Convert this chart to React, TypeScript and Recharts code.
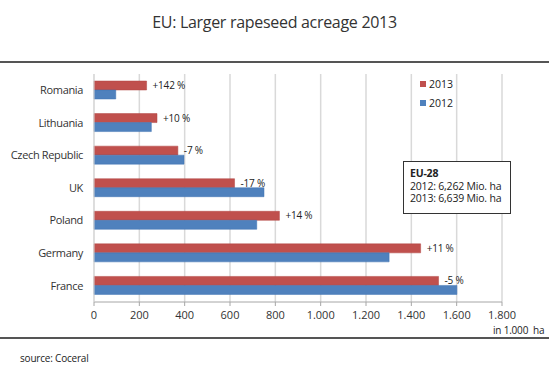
import React from 'react';
import { BarChart, Bar, XAxis, YAxis, CartesianGrid, LabelList } from 'recharts';

const countries = ['Romania', 'Lithuania', 'Czech Republic', 'UK', 'Poland', 'Germany', 'France'];
const values2013 = [232, 278, 370, 620, 818, 1441, 1520];
const values2012 = [96, 253, 397, 750, 718, 1302, 1601];
const changeLabels = ['+142 %', '+10 %', '-7 %', '-17 %', '+14 %', '+11 %', '-5 %'];
const xTicks = [0, 200, 400, 600, 800, 1000, 1200, 1400, 1600, 1800];
const seriesNames = ['2013', '2012'];

const data = countries.map((c, i) => ({
  country: c,
  y2013: values2013[i],
  y2012: values2012[i],
  change: changeLabels[i],
}));

const RED = '#C0504D';
const BLUE = '#4F81BD';
const seriesColors = [RED, BLUE];
const FONT = '"Open Sans", "DejaVu Sans", sans-serif';

const fmt = (v: number) => {
  const s = String(v);
  return s.length > 3 ? s.slice(0, s.length - 3) + '.' + s.slice(s.length - 3) : s;
};

const ChangeLabel = (props: any) => {
  const { x, y, width, height, value } = props;
  return (
    <text
      x={Number(x) + Number(width) + 6}
      y={Number(y) + Number(height) / 2}
      dy="0.35em"
      fontSize={10}
      fill="#222"
      fontFamily={FONT}
      letterSpacing={-0.2}
    >
      {value}
    </text>
  );
};

const YTick = (props: any) => {
  const { x, y, payload } = props;
  return (
    <text x={x} y={y} dy="0.35em" textAnchor="end" fontSize={11} fill="#333" fontFamily={FONT} letterSpacing={-0.35}>
      {payload.value}
    </text>
  );
};

export default function App() {
  return (
    <div style={{ position: 'absolute', left: 0, top: 0, width: 549, height: 378, background: '#fff', fontFamily: FONT }}>
      <div style={{ position: 'absolute', left: 0, top: 11, width: 549, textAlign: 'center', fontSize: 16, letterSpacing: -0.3, color: '#333' }}>
        EU: Larger rapeseed acreage 2013
      </div>
      <div style={{ position: 'absolute', left: 0, top: 61, width: 549, height: 1.5, background: '#555' }} />
      <div style={{ position: 'absolute', left: 0, top: 337, width: 549, height: 1.5, background: '#555' }} />
      <BarChart
        width={549}
        height={378}
        data={data}
        layout="vertical"
        margin={{ top: 74, right: 47, bottom: 46, left: 0 }}
        barGap={0}
        barSize={9}
      >
        <CartesianGrid horizontal={false} stroke="#D9D9D9" strokeWidth={1.5} />
        <XAxis
          type="number"
          domain={[0, 1800]}
          ticks={xTicks}
          tickFormatter={fmt}
          height={30}
          interval={0}
          stroke="#A6A6A6"
          tickSize={4}
          tickMargin={5}
          tick={{ fontSize: 11, fill: '#333', fontFamily: FONT }}
        />
        <YAxis
          type="category"
          dataKey="country"
          width={94}
          tickLine={false}
          tickSize={6}
          tickMargin={5}
          axisLine={{ stroke: '#D9D9D9' }}
          tick={<YTick />}
        />
        <Bar dataKey="y2013" name="2013" fill={RED} stroke="#B04542" strokeWidth={0.5} isAnimationActive={false}>
          <LabelList dataKey="change" content={<ChangeLabel />} />
        </Bar>
        <Bar dataKey="y2012" name="2012" fill={BLUE} stroke="#3F73B3" strokeWidth={0.5} isAnimationActive={false} />
      </BarChart>
      <div style={{ position: 'absolute', left: 420, top: 75, fontSize: 10.5, color: '#222' }}>
        {seriesNames.map((n, i) => (
          <div key={n} style={{ display: 'flex', alignItems: 'center', height: 18.5 }}>
            <span style={{ display: 'inline-block', width: 6, height: 6, background: seriesColors[i], marginRight: 3 }} />
            <span>{n}</span>
          </div>
        ))}
      </div>
      <div
        style={{
          position: 'absolute',
          left: 403,
          top: 161,
          width: 108,
          height: 53,
          border: '1px solid #333',
          background: '#fff',
          fontSize: 10.5,
          color: '#222',
          lineHeight: '12.5px',
          padding: '5px 0 0 6px',
          boxSizing: 'border-box',
          letterSpacing: -0.2,
        }}
      >
        <div style={{ fontWeight: 700 }}>EU-28</div>
        <div>2012: 6,262 Mio. ha</div>
        <div>2013: 6,639 Mio. ha</div>
      </div>
      <div style={{ position: 'absolute', left: 493, top: 323, fontSize: 10, letterSpacing: -0.2, color: '#222', whiteSpace: 'pre' }}>
        {'in 1.000  ha'}
      </div>
      <div style={{ position: 'absolute', left: 20, top: 351, fontSize: 10, color: '#222', letterSpacing: -0.2 }}>
        source: Coceral
      </div>
    </div>
  );
}
